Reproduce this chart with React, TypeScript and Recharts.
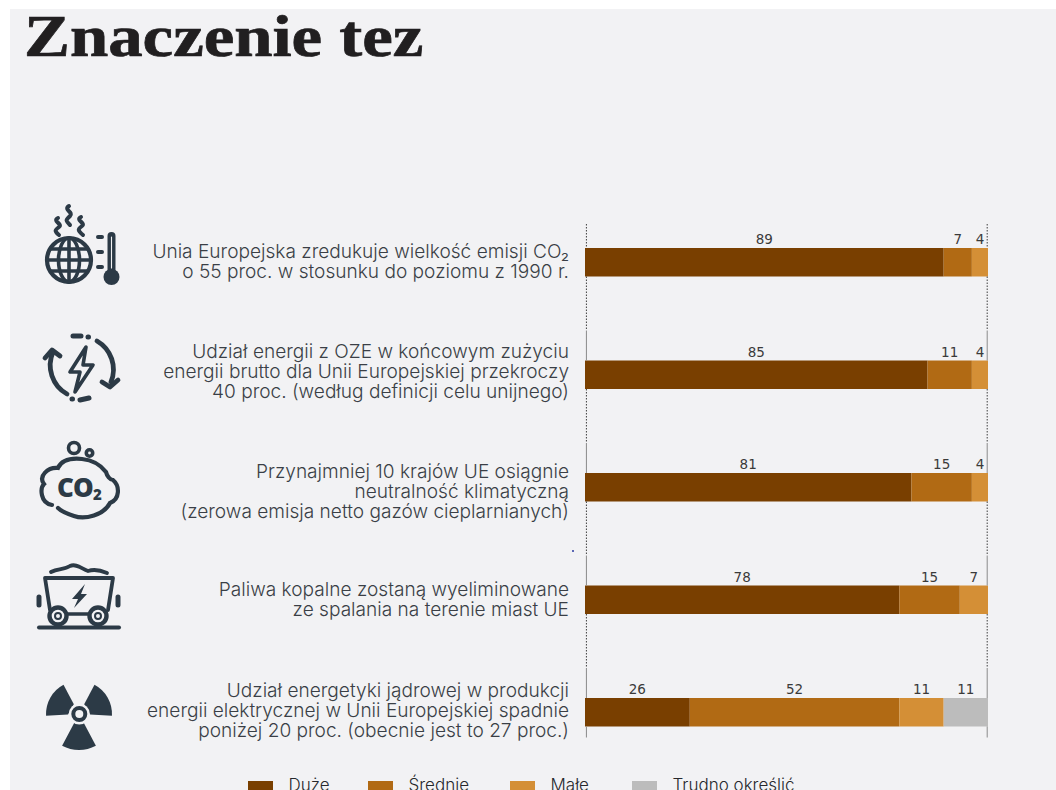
import React from "react";
import { BarChart, Bar, XAxis, YAxis, LabelList, Legend, ReferenceLine } from "recharts";

const categories = [
  "Unia Europejska zredukuje wielkość emisji CO₂\no 55 proc. w stosunku do poziomu z 1990 r.",
  "Udział energii z OZE w końcowym zużyciu\nenergii brutto dla Unii Europejskiej przekroczy\n40 proc. (według definicji celu unijnego)",
  "Przynajmniej 10 krajów UE osiągnie\nneutralność klimatyczną\n(zerowa emisja netto gazów cieplarnianych)",
  "Paliwa kopalne zostaną wyeliminowane\nze spalania na terenie miast UE",
  "Udział energetyki jądrowej w produkcji\nenergii elektrycznej w Unii Europejskiej spadnie\nponiżej 20 proc. (obecnie jest to 27 proc.)",
];
const duze = [89, 85, 81, 78, 26];
const srednie = [7, 11, 15, 15, 52];
const male = [4, 4, 4, 7, 11];
const trudno = [0, 0, 0, 0, 11];

const seriesNames = ["Duże", "Średnie", "Małe", "Trudno określić"];
const seriesKeys = ["duze", "srednie", "male", "trudno"];
const seriesColors = ["#793f00", "#b16a14", "#d48f36", "#bcbcbc"];

const rows = categories.map((label, i) => ({
  label,
  duze: duze[i],
  srednie: srednie[i],
  male: male[i],
  trudno: trudno[i],
}));

const INK = "#2c3a46";
const TEXT = "#3a3f46";
const SANS = "Inter, 'Noto Sans', sans-serif";
const BAR_HEIGHT = 28.5;
const LABEL_NUDGE = [-1, -3, 4, 0, -2];
const LEGEND_LEFT = [248, 368, 510, 632];

const Bolt = ({ d }: { d: string }) => <path d={d} fill={INK} />;

const wedge = (cx: number, cy: number, a0: number, a1: number, r0: number, r1: number) => {
  const pt = (r: number, a: number) =>
    `${cx + r * Math.cos((a * Math.PI) / 180)} ${cy + r * Math.sin((a * Math.PI) / 180)}`;
  return `M${pt(r0, a0)} L${pt(r1, a0)} A${r1} ${r1} 0 0 1 ${pt(r1, a1)} L${pt(r0, a1)} Z`;
};

// Thermometer beside a globe with rising heat
const ClimateIcon = () => (
  <g fill="none" stroke={INK} strokeLinecap="round">
    <circle cx={69} cy={260} r={22} strokeWidth={4.2} />
    <ellipse cx={69} cy={260} rx={10.5} ry={22} strokeWidth={3.6} />
    <path d="M69 238V282M47 260H91M51 249H87M51 271H87" strokeWidth={3.6} />
    <path d="M58 218c-6 3 5 6 1 9s-5 4 0 8M69 206c-6 4 5 6 1 10s-5 4 0 9M81 217c-6 3 5 6 1 9s-5 4 1 9" strokeWidth={4} />
    <path d="M98 237H102M98 252H102M98 267H102" strokeWidth={4} />
    <path d="M111.5 236V272" strokeWidth={8} />
    <circle cx={111.5} cy={277} r={8} fill={INK} strokeWidth={0} />
    <path d="M111.5 237V268" strokeWidth={1.1} stroke="#f2f2f4" />
  </g>
);

// Renewable energy cycle around a lightning bolt
const CycleIcon = () => (
  <g fill="none" stroke={INK} strokeLinecap="round" strokeLinejoin="round">
    <path d="M97 341A33 33 0 0 1 111 382" strokeWidth={4.8} />
    <path d="M102 382L110 387L118 380" strokeWidth={4.8} />
    <path d="M53 352A33 33 0 0 0 67 394" strokeWidth={4.8} />
    <path d="M45 358L52 350L60 356" strokeWidth={4.8} />
    <path d="M73 336H81M88 337H88.5M72 399H72.5M80 400L89 398" strokeWidth={5} />
    <path d="M86 347L70 372H80L75 392L93 365H83Z" strokeWidth={3.6} />
  </g>
);

// Cloud with a CO2 mark and two bubbles
const CloudIcon = () => (
  <g fill="none" stroke={INK} strokeLinecap="round">
    <circle cx={74} cy={448} r={5.5} strokeWidth={3.6} />
    <circle cx={89.5} cy={453} r={3.2} strokeWidth={3.6} />
    <path d="M52 505C40 503 40 488 44 484C38 476 48 467 58 468C62 459 72 458 82 459C92 460 100 464 106 472C107 476 110 480 113 480C120 486 120 499 110 503C104 515 85 520 74 516C68 514 62 512 58 508" strokeWidth={4.2} />
    <text x={79} y={497} textAnchor="middle" fontFamily="'Open Sans', sans-serif" fontWeight={800} fontSize={26} fill={INK} stroke="none" letterSpacing={-0.8}>
      CO<tspan fontSize={15} dy={3}>2</tspan>
    </text>
  </g>
);

// Coal wagon on rails carrying an energy bolt
const CartIcon = () => (
  <g fill="none" stroke={INK} strokeLinecap="round" strokeLinejoin="round">
    <path d="M51 572C58 568 64 570 70 566C76 563 82 569 88 571C94 569 100 570 107 573" strokeWidth={3.8} />
    <path d="M45 578H113L108 610M50 610L45 578" strokeWidth={3.8} />
    <path d="M68 614H88" strokeWidth={3.4} />
    <circle cx={58} cy={616} r={8.5} strokeWidth={4.4} />
    <circle cx={98} cy={616} r={8.5} strokeWidth={4.4} />
    <circle cx={58} cy={616} r={3} strokeWidth={2} />
    <circle cx={98} cy={616} r={3} strokeWidth={2} />
    <path d="M39 597V605M118 597V605" strokeWidth={5} />
    <path d="M39 627.5H119" strokeWidth={4} />
    <g stroke="none"><Bolt d="M85 584L72 599H78L74 608L87 594H81Z" /></g>
  </g>
);

// Radiation trefoil
const NuclearIcon = () => (
  <g>
    <path d={wedge(79, 714, 177, 242, 11, 33)} fill={INK} />
    <path d={wedge(79, 714, 298, 363, 11, 33)} fill={INK} />
    <path d={wedge(79, 714, 62, 118, 10, 36)} fill={INK} />
    <circle cx={79.3} cy={714} r={10.5} fill="#f2f2f4" />
    <circle cx={79.3} cy={714} r={6} fill="none" stroke={INK} strokeWidth={4} />
  </g>
);

const icons = [ClimateIcon, CycleIcon, CloudIcon, CartIcon, NuclearIcon];

const CategoryTick = ({ y, payload, index }: any) => {
  const lines = String(payload.value).split("\n");
  const Icon = icons[index];
  const step = 20.2;
  const start = y + LABEL_NUDGE[index] - ((lines.length - 1) * step) / 2 + 6.5;
  return (
    <g>
      <Icon />
      <text textAnchor="end" fontFamily={SANS} fontSize={19.1} fontWeight={300} fill={TEXT}>
        {lines.map((line, i) => (
          <tspan key={i} x={569} y={start + i * step}>
            {line}
          </tspan>
        ))}
      </text>
    </g>
  );
};

// Frame lines run in the gaps between bars: dotted first, then solid towards the next bar.
const FrameLine = ({ x1, y1, y2 }: any) => {
  const top = Math.min(y1, y2);
  const step = Math.abs(y2 - y1) / categories.length;
  const barEdge = (i: number, dir: number) => top + (i + 0.5) * step + (dir * BAR_HEIGHT) / 2;
  const parts: React.ReactNode[] = [];
  const dotted = (a: number, b: number, key: string) => (
    <line key={key} x1={x1} x2={x1} y1={a} y2={b} stroke="#3f3f3f" strokeWidth={1} strokeDasharray="1.5 1.5" />
  );
  const solid = (a: number, b: number, key: string) => (
    <line key={key} x1={x1} x2={x1} y1={a} y2={b} stroke="#8a8a8a" strokeWidth={1} />
  );
  parts.push(dotted(barEdge(0, -1) - 24, barEdge(0, -1), "top"));
  for (let i = 0; i < categories.length - 1; i++) {
    const a = barEdge(i, 1);
    const b = barEdge(i + 1, -1);
    parts.push(dotted(a, a + 54, `d${i}`));
    parts.push(solid(a + 54, b, `s${i}`));
  }
  const end = barEdge(categories.length - 1, 1);
  parts.push(solid(end, end + 11, "end"));
  return <g>{parts}</g>;
};

const valueLabel = (v: any) => (v ? String(v) : "");

const LegendRow = () => (
  <div style={{ position: "relative", width: 1056, height: 14 }}>
    {seriesNames.map((name, i) => (
      <React.Fragment key={name}>
        <span
          style={{
            position: "absolute",
            left: LEGEND_LEFT[i],
            top: 5,
            width: 25,
            height: 12,
            background: seriesColors[i],
          }}
        />
        <span
          style={{
            position: "absolute",
            left: LEGEND_LEFT[i] + 40.5,
            top: -1,
            fontFamily: SANS,
            fontSize: 17,
            fontWeight: 300,
            lineHeight: "20px",
            color: "#26282c",
            whiteSpace: "nowrap",
          }}
        >
          {name}
        </span>
      </React.Fragment>
    ))}
  </div>
);

export default function App() {
  return (
    <div style={{ position: "absolute", left: 0, top: 0, width: 1056, height: 790, overflow: "hidden", background: "#ffffff" }}>
      <div style={{ position: "absolute", left: 10, top: 9, right: 0, bottom: 0, background: "#f2f2f4" }} />
      <div
        style={{
          position: "absolute",
          left: 24,
          top: 3,
          fontFamily: "'Liberation Serif', serif",
          fontWeight: 700,
          fontSize: 60,
          lineHeight: "66px",
          color: "#211f20",
          whiteSpace: "nowrap",
          transform: "scaleX(1.147)",
          transformOrigin: "left top",
          WebkitTextStroke: "0.7px #211f20",
        }}
      >
        Znaczenie tez
      </div>
      <div style={{ position: "absolute", left: 572, top: 550, width: 2, height: 2, borderRadius: 1, background: "#2a3aa0" }} />
      <div style={{ position: "absolute", left: 0, top: 0 }}>
        <BarChart
          width={1056}
          height={790}
          layout="vertical"
          data={rows}
          margin={{ top: 206, right: 68, bottom: 7.5, left: 0 }}
          barSize={BAR_HEIGHT}
          style={{ background: "transparent" }}
        >
          <XAxis type="number" domain={[0, 100]} hide />
          <YAxis
            type="category"
            dataKey="label"
            width={585}
            axisLine={false}
            tickLine={false}
            interval={0}
            tick={<CategoryTick />}
          />
          <ReferenceLine x={0.35} shape={<FrameLine />} />
          <ReferenceLine x={99.8} shape={<FrameLine />} />
          <Legend
            verticalAlign="bottom"
            content={<LegendRow />}
            wrapperStyle={{ position: "absolute", left: 0, top: 776, width: 1056, height: 14 }}
          />
          {seriesKeys.map((key, i) => (
            <Bar key={key} dataKey={key} name={seriesNames[i]} stackId="a" fill={seriesColors[i]} isAnimationActive={false}>
              <LabelList
                dataKey={key}
                position="top"
                offset={4}
                formatter={valueLabel}
                fontFamily="'DejaVu Sans', sans-serif"
                fontSize={13.5}
                fill="#3a3a3a"
              />
            </Bar>
          ))}
        </BarChart>
      </div>
    </div>
  );
}
